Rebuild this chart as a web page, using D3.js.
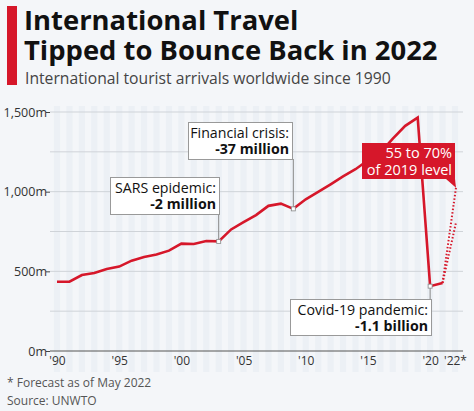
<!DOCTYPE html>
<html><head><meta charset="utf-8">
<script src="https://cdn.jsdelivr.net/npm/d3@7"></script>
<style>
html,body{margin:0;padding:0;background:#f4f6f9;}
svg{display:block;font-family:"Open Sans",sans-serif;}
</style></head>
<body><svg id="c" width="474" height="411"></svg>
<script>
const years = d3.range(1990, 2022);
const arrivals = [435,435,477,490,515,530,567,590,605,630,674,672,690,688,763,809,853,911,925,892,952,998,1046,1096,1141,1197,1245,1333,1413,1465,407,427];
const forecastYear = 2022;
const forecastLow = 806, forecastHigh = 1025;
const yTicks = [0,500,1000,1500];
const gridTicks = [0,250,500,750,1000,1250,1500];
const xTickYears = [1990,1995,2000,2005,2010,2015,2020,2022];
const xTickLabels = ["'90","'95","'00","'05","'10","'15","'20","'22*"];
const annotations = [
  {year:2003, l1:"SARS epidemic:", l2:"-2 million", bx:110, by:177, bw:109, bh:37},
  {year:2009, l1:"Financial crisis:", l2:"-37 million", bx:188, by:122, bw:104, bh:37},
  {year:2020, l1:"Covid-19 pandemic:", l2:"-1.1 billion", bx:290, by:299, bw:141, bh:36, below:true}
];

const svg = d3.select("#c");
const red = "#d6172a";
const x = d3.scaleLinear().domain([1990,2022]).range([57,455]);
const y = d3.scaleLinear().domain([0,1500]).range([351,112]);

// title
svg.append("rect").attr("x",7).attr("y",6).attr("width",10).attr("height",79).attr("fill",red);
svg.append("text").attr("x",24).attr("y",29.5).attr("font-weight",700).attr("font-size",27.4).attr("fill","#111").text("International Travel");
svg.append("text").attr("x",24).attr("y",60).attr("font-weight",700).attr("font-size",27.4).attr("fill","#111").text("Tipped to Bounce Back in 2022");
svg.append("text").attr("x",25).attr("y",84).attr("font-size",15.7).attr("fill","#444")
  .text("International tourist arrivals worldwide since 1990");

// stripes
const step = x(1991)-x(1990);
svg.append("g").selectAll("rect").data(d3.range(1990,2023)).join("rect")
  .attr("x", d=>x(d)-step/4).attr("width", step/2)
  .attr("y",106).attr("height",266).attr("fill","#ecf0f5");

// grid
svg.append("g").selectAll("line").data(gridTicks.filter(d=>d>0)).join("line")
  .attr("x1",50).attr("x2",463).attr("y1",d=>y(d)).attr("y2",d=>y(d))
  .attr("stroke","#cfd3d8").attr("stroke-width",1);

// y axis labels
const yAxis = d3.axisLeft(y).tickValues(yTicks).tickSize(4).tickFormat(d=>d3.format(",")(d)+"m");
const gy = svg.append("g").attr("transform","translate(50,0)").call(yAxis);
gy.select(".domain").remove();
gy.selectAll("line").attr("stroke","#444");
gy.selectAll("text").attr("font-size",12.5).attr("fill","#333").attr("font-family","Open Sans, sans-serif").attr("x",-3);

// x axis
const xAxis = d3.axisBottom(x).tickValues(xTickYears).tickSize(0).tickFormat((d,i)=>xTickLabels[i]);
const gx = svg.append("g").attr("transform","translate(0,351)").call(xAxis);
gx.select(".domain").attr("d","M50,0H463").attr("stroke","#555").attr("stroke-width",1.2);
gx.selectAll("text").attr("font-size",12).attr("fill","#333").attr("font-family","Open Sans, sans-serif").attr("dy","0.95em");

// leaders
annotations.forEach(a=>{
  const v = arrivals[a.year-1990];
  const px = x(a.year), py = y(v);
  svg.append("line").attr("x1",px).attr("x2",px)
    .attr("y1", a.below ? a.by : a.by+a.bh).attr("y2", py)
    .attr("stroke","#888").attr("stroke-width",1);
});

// forecast dotted
[forecastLow, forecastHigh].forEach(v=>{
  svg.append("line").attr("x1",x(2021)).attr("y1",y(arrivals[31]))
    .attr("x2",x(forecastYear)+1).attr("y2",y(v))
    .attr("stroke",red).attr("stroke-width",2).attr("stroke-dasharray","1.5,2");
});

// line
svg.append("path").datum(years.map((yr,i)=>[yr,arrivals[i]]))
  .attr("d", d3.line().x(d=>x(d[0])).y(d=>y(d[1])))
  .attr("fill","none").attr("stroke",red).attr("stroke-width",2.6).attr("stroke-linejoin","miter");

// markers
annotations.forEach(a=>{
  const v = arrivals[a.year-1990];
  svg.append("rect").attr("x",x(a.year)-2).attr("y",y(v)-2).attr("width",4).attr("height",4)
    .attr("fill","#fff").attr("stroke","#888").attr("stroke-width",0.8);
});

// annotation boxes
annotations.forEach(a=>{
  svg.append("rect").attr("x",a.bx+0.5).attr("y",a.by+0.5).attr("width",a.bw).attr("height",a.bh)
    .attr("fill","#fff").attr("stroke","#999").attr("stroke-width",1);
  svg.append("text").attr("text-anchor","end").attr("font-size",14.2).attr("fill","#111")
    .attr("x",a.bx+a.bw-3).attr("y",a.by+16).text(a.l1);
  svg.append("text").attr("text-anchor","end").attr("font-size",14.2).attr("fill","#111")
    .attr("x",a.bx+a.bw-3).attr("y",a.by+32).attr("font-weight",700).text(a.l2);
});

// red forecast label
const fx = x(forecastYear);
svg.append("rect").attr("x",362).attr("y",143).attr("width",fx-362).attr("height",36).attr("fill",red);
svg.append("path").attr("d",`M${fx-9},179L${fx},179L${fx+1},${y(forecastHigh)}Z`).attr("fill",red);
svg.append("text").attr("text-anchor","end").attr("font-size",14.5).attr("fill","#fff")
  .attr("x",fx-3).attr("y",158).text("55 to 70%");
svg.append("text").attr("text-anchor","end").attr("font-size",14.5).attr("fill","#fff")
  .attr("x",fx-3).attr("y",175).text("of 2019 level");

// footer
svg.append("text").attr("x",7).attr("y",387).attr("font-size",12).attr("fill","#555").text("* Forecast as of May 2022");
svg.append("text").attr("x",7).attr("y",405).attr("font-size",12).attr("fill","#555").text("Source: UNWTO");
</script></body></html>
